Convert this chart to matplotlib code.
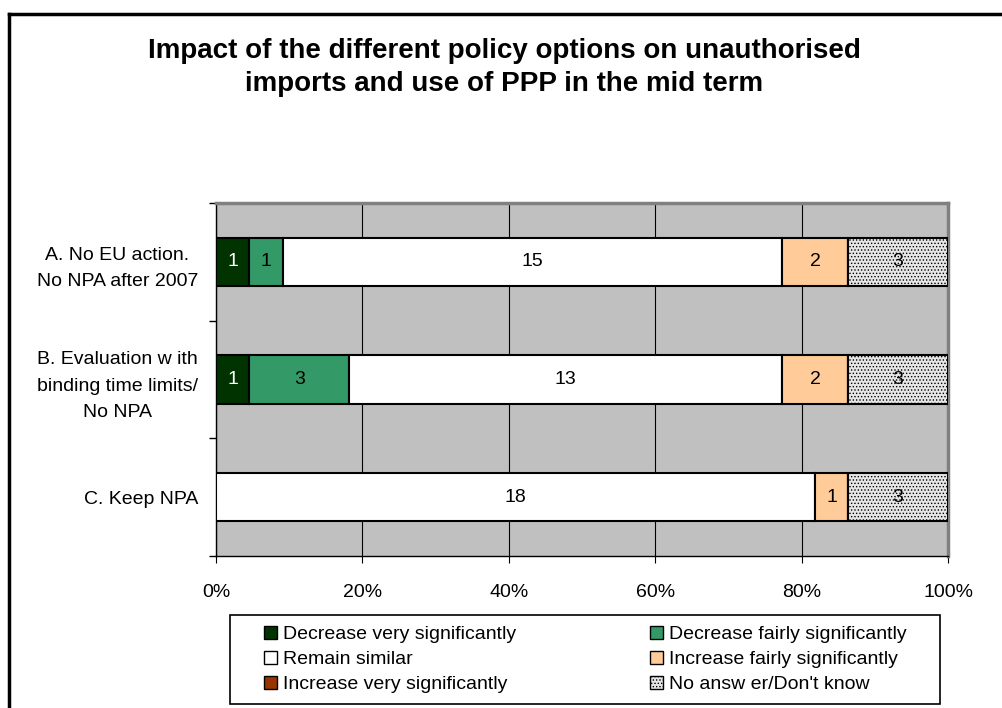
import numpy as np
import matplotlib.pyplot as plt
from matplotlib.patches import Patch, Rectangle
from matplotlib.lines import Line2D
from matplotlib.ticker import FixedLocator, PercentFormatter

plt.rcParams['font.family'] = ['Liberation Sans', 'DejaVu Sans']
plt.rcParams['hatch.color'] = '#808080'
plt.rcParams['hatch.linewidth'] = 0.6

options = ['A. No EU action.\nNo NPA after 2007',
           'B. Evaluation w ith\nbinding time limits/\nNo NPA',
           'C. Keep NPA']
series = ['Decrease very significantly', 'Decrease fairly significantly',
          'Remain similar', 'Increase fairly significantly',
          'Increase very significantly', "No answ er/Don't know"]
dec_very = [1, 1, 0]
dec_fair = [1, 3, 0]
remain = [15, 13, 18]
inc_fair = [2, 2, 1]
inc_very = [0, 0, 0]
no_answer = [3, 3, 3]

colors = ['#003300', '#339966', '#ffffff', '#ffcc99', '#993300', '#e6e6e6']
hatches = [None, None, None, None, None, '.....']

counts = np.array([dec_very, dec_fair, remain, inc_fair, inc_very, no_answer], dtype=float)
totals = counts.sum(axis=0)
shares = counts / totals * 100

fig = plt.figure(figsize=(10.03, 7.08), dpi=100)
ax = fig.add_axes([0.2154, 0.2147, 0.7298, 0.4986])
ax.set_facecolor('#c0c0c0')

ypos = np.arange(len(options))
left = np.zeros(len(options))
for i, name in enumerate(series):
    bars = ax.barh(ypos, shares[i], left=left, height=0.41, color=colors[i],
                   edgecolor='black', linewidth=1.5, hatch=hatches[i], label=name,
                   zorder=3)
    labels = ['%d' % v if v > 0 else '' for v in counts[i]]
    ax.bar_label(bars, labels=labels, label_type='center', fontsize=14,
                 color='white' if i == 0 else 'black')
    left += shares[i]

ax.set_xlim(0, 100)
ax.set_ylim(2.5, -0.5)
ax.xaxis.set_major_locator(FixedLocator([0, 20, 40, 60, 80, 100]))
ax.xaxis.set_major_formatter(PercentFormatter(decimals=0))
ax.set_yticks(ypos)
ax.set_yticklabels(options)
ax.yaxis.set_minor_locator(FixedLocator([-0.5, 0.5, 1.5, 2.5]))
ax.tick_params(axis='y', which='major', length=0, labelsize=14, pad=13)
ax.tick_params(axis='y', which='minor', length=5, direction='out', width=1)
ax.tick_params(axis='x', length=5, direction='out', labelsize=14, pad=15)
for lab in ax.get_yticklabels():
    lab.set_multialignment('center')
    lab.set_linespacing(1.7)

ax.grid(axis='x', color='black', linewidth=0.8, zorder=1)
ax.set_axisbelow(True)
for side in ['top', 'right']:
    ax.spines[side].set_color('#808080')
    ax.spines[side].set_linewidth(2.5)
for side in ['left', 'bottom']:
    ax.spines[side].set_color('black')
    ax.spines[side].set_linewidth(1)

fig.text(0.503, 0.905, 'Impact of the different policy options on unauthorised\n'
         'imports and use of PPP in the mid term', ha='center', va='center',
         fontsize=20, fontweight='bold', linespacing=1.37)

# legend: Excel fills row by row, so build the handles in that order
handles = [Patch(facecolor=colors[i], edgecolor='black', hatch=hatches[i],
                 linewidth=1, label=series[i]) for i in range(len(series))]
order = [0, 2, 4, 1, 3, 5]
leg = fig.legend([handles[i] for i in order], [series[i] for i in order],
                 loc='center', bbox_to_anchor=(0.261, 0.006, 0.645, 0.125),
                 mode='expand', ncol=2, frameon=False,
                 fontsize=14, handlelength=0.7, handleheight=0.7,
                 handletextpad=0.3, labelspacing=0.38, borderpad=0.1,
                 columnspacing=1.0, borderaxespad=0)
fig.add_artist(Rectangle((0.2293, 0.006), 0.7079, 0.125, fill=False,
                         edgecolor='black', linewidth=1.2,
                         transform=fig.transFigure))

# outer chart frame
fig.add_artist(Line2D([0.009, 0.009], [0.0, 0.980], color='black', linewidth=2.5,
                      transform=fig.transFigure))
fig.add_artist(Line2D([0.009, 1.0], [0.980, 0.980], color='black', linewidth=2.5,
                      transform=fig.transFigure))

fig.savefig('out.png', dpi=100)
